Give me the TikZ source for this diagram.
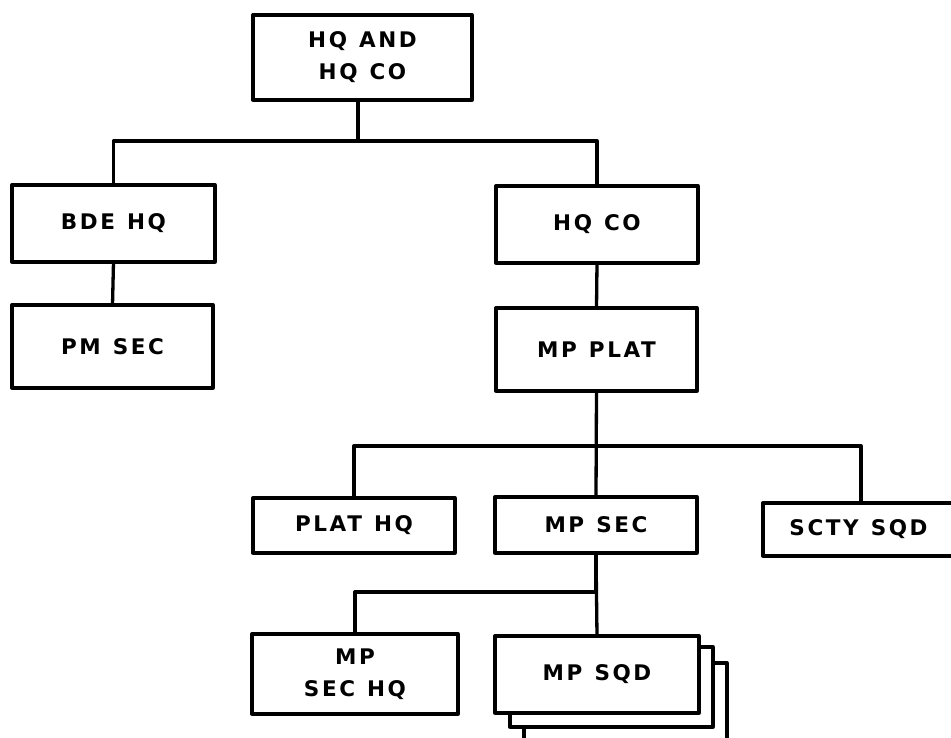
\documentclass[tikz,border=0pt]{standalone}
\usepackage{fontspec}
\newfontfamily\lblfont[LetterSpace=12,WordSpace=1.2]{DejaVu Sans}
\begin{document}
\begin{tikzpicture}[x=1pt,y=-1pt,
  line width=3.3pt, line join=round, line cap=round,
  box/.style={draw, fill=white, rectangle, inner sep=0pt, outer sep=0pt,
    align=center, font=\lblfont\bfseries\fontsize{21.5}{32}\selectfont},
  link/.style={draw, line width=3.3pt}]
\useasboundingbox (0,0) rectangle (951,738);
\clip (0,0) rectangle (951,738);

% top level
\node[box, minimum width=219pt, minimum height=85pt] (top) at (362.5,57.5) {HQ AND\\HQ CO};
% second level
\node[box, minimum width=203pt, minimum height=77pt] (bde) at (113.5,223.5) {BDE HQ};
\node[box, minimum width=201pt, minimum height=83pt] (pm) at (112.5,346.5) {PM SEC};
\node[box, minimum width=202pt, minimum height=77pt] (hqco) at (597,224.5) {HQ CO};
\node[box, minimum width=201pt, minimum height=83pt] (mpplat) at (596.5,349.5) {MP PLAT};
% third level
\node[box, minimum width=202pt, minimum height=55pt] (plathq) at (354,525.5) {PLAT HQ};
\node[box, minimum width=202pt, minimum height=56pt] (mpsec) at (596,525) {MP SEC};
\node[box, minimum width=191pt, minimum height=53pt] (scty) at (858.5,529.5) {SCTY SQD};
% fourth level
\node[box, minimum width=206pt, minimum height=80pt] (sechq) at (355,674) {MP\\SEC HQ};
\node[box, minimum width=203pt, minimum height=87pt] (sqdc) at (625.5,706.5) {};
\node[box, minimum width=203pt, minimum height=80pt] (sqdb) at (611.5,687) {};
\node[box, minimum width=204pt, minimum height=77pt] (mpsqd) at (597,674.5) {MP SQD};

% junction points
\coordinate (j1) at (358,141);
\coordinate (j2) at (861,446);

% connectors
\draw[link] (top.south -| j1) -- (j1);
\draw[link] (j1) -| (bde.north);
\draw[link] (j1) -| (hqco.north);
\draw[link] (bde.south) -- (pm.north);
\draw[link] (hqco.south) -- (mpplat.north);
\draw[link] (mpplat.south) |- (plathq.north |- j2) -- (plathq.north);
\draw[link] (mpplat.south |- j2) -- (j2) -- (j2 |- scty.north);
\draw[link] (mpplat.south) -- (mpsec.north);
\draw[link] (mpsec.south) |- (sechq.north |- 0,592) -- (sechq.north);
\draw[link] (mpsec.south) -- (mpsqd.north);
\end{tikzpicture}
\end{document}
